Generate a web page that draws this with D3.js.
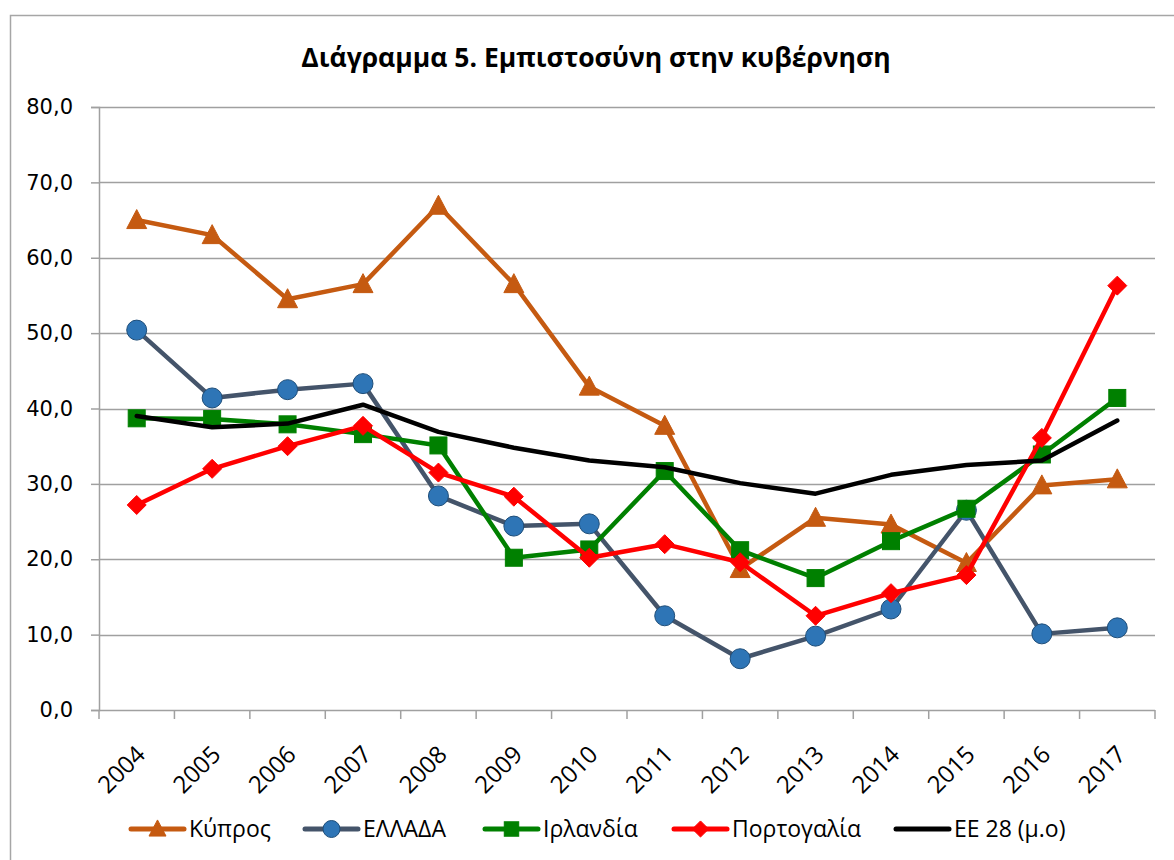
<!DOCTYPE html>
<html>
<head>
<meta charset="utf-8">
<script src="https://cdn.jsdelivr.net/npm/d3@7"></script>
<style>
  html, body { margin: 0; padding: 0; background: #fff; }
  svg { display: block; }
</style>
</head>
<body>
<svg id="chart" width="1174" height="860"></svg>
<script>
const years = ["2004","2005","2006","2007","2008","2009","2010","2011","2012","2013","2014","2015","2016","2017"];
const yTicks = [0,10,20,30,40,50,60,70,80];
const titleText = "Διάγραμμα 5. Εμπιστοσύνη στην κυβέρνηση";

const cyprus   = [65.0,63.0,54.5,56.5,66.9,56.5,42.9,37.7,18.7,25.5,24.6,19.5,29.8,30.6];
const greece   = [50.4,41.4,42.5,43.3,28.4,24.4,24.7,12.5,6.8,9.8,13.4,26.5,10.1,10.9];
const ireland  = [38.7,38.6,37.9,36.6,35.1,20.2,21.3,31.7,21.2,17.5,22.4,26.7,33.9,41.4];
const portugal = [27.2,32.0,35.0,37.7,31.5,28.3,20.2,22.0,19.6,12.5,15.5,17.9,36.1,56.3];
const eu28     = [39.0,37.5,38.0,40.5,36.9,34.8,33.1,32.2,30.1,28.7,31.2,32.5,33.1,38.4];

const seriesNames = ["Κύπρος","ΕΛΛΑΔΑ","Ιρλανδία","Πορτογαλία","ΕΕ 28 (μ.ο)"];

const series = [
  {name: seriesNames[0], values: cyprus,   line: "#C55A11", marker: "triangle", fill: "#C55A11", stroke: "#C55A11"},
  {name: seriesNames[1], values: greece,   line: "#44546A", marker: "circle",   fill: "#2E75B6", stroke: "#1F4E79"},
  {name: seriesNames[2], values: ireland,  line: "#008000", marker: "square",   fill: "#008000", stroke: "#008000"},
  {name: seriesNames[3], values: portugal, line: "#FF0000", marker: "diamond",  fill: "#FF0000", stroke: "#FF0000"},
  {name: seriesNames[4], values: eu28,     line: "#000000", marker: "none"}
];

const svg = d3.select("#chart");
const plot = {left: 99, right: 1155, top: 107, bottom: 710};

// chart border
svg.append("rect").attr("x", 10.5).attr("y", 15.5).attr("width", 1200).attr("height", 900)
  .attr("fill", "#fff").attr("stroke", "#a6a6a6").attr("stroke-width", 1.5);

const x = d3.scaleBand().domain(years).range([plot.left, plot.right]).padding(0);
const y = d3.scaleLinear().domain([0, 80]).range([plot.bottom, plot.top]);
const cx = d => x(d) + x.bandwidth() / 2;

// title
svg.append("text").attr("x", 596).attr("y", 67).attr("text-anchor", "middle")
  .attr("font-family", "Open Sans").attr("font-weight", "bold").attr("font-size", 26.5)
  .attr("fill", "#000").text(titleText);

// gridlines
svg.append("g").selectAll("line").data(yTicks.filter(t => t > 0)).join("line")
  .attr("x1", plot.left).attr("x2", plot.right)
  .attr("y1", d => Math.round(y(d)) + 0.5).attr("y2", d => Math.round(y(d)) + 0.5)
  .attr("stroke", "#a0a0a0").attr("stroke-width", 1.5);

// y axis
const yAxis = d3.axisLeft(y).tickValues(yTicks).tickSize(8).tickPadding(18)
  .tickFormat(d => d3.format(".1f")(d).replace(".", ","));
const gy = svg.append("g").attr("transform", `translate(${plot.left},0)`).call(yAxis);
gy.select(".domain").attr("stroke", "#a0a0a0").attr("stroke-width", 1.5);
gy.selectAll(".tick line").attr("stroke", "#a0a0a0").attr("stroke-width", 1.5);
gy.selectAll(".tick text").attr("font-family", "DejaVu Sans").attr("font-size", 21).attr("fill", "#000");

// x axis
const gx = svg.append("g").attr("transform", `translate(0,${plot.bottom})`);
gx.append("line").attr("x1", plot.left).attr("x2", plot.right).attr("y1", 0.5).attr("y2", 0.5)
  .attr("stroke", "#a0a0a0").attr("stroke-width", 1.5);
const bounds = years.map(yr => x(yr)).concat([plot.right]);
gx.selectAll("line.tk").data(bounds).join("line").attr("class", "tk")
  .attr("x1", d => d).attr("x2", d => d).attr("y1", 0).attr("y2", 9)
  .attr("stroke", "#a0a0a0").attr("stroke-width", 1.5);
gx.selectAll("text").data(years).join("text")
  .attr("transform", d => `translate(${cx(d) + 10},${46}) rotate(-45)`)
  .attr("text-anchor", "end")
  .attr("font-family", "Open Sans").attr("font-size", 24).attr("fill", "#000")
  .text(d => d);

// marker helpers
function drawMarker(g, type, px, py, s, fill, stroke) {
  if (type === "triangle") {
    const h = s * 0.95, w = s;
    g.append("path").attr("d", `M${px},${py - h/2 - 1}L${px + w/2},${py + h/2 - 1}L${px - w/2},${py + h/2 - 1}Z`)
      .attr("fill", fill).attr("stroke", stroke).attr("stroke-width", 1);
  } else if (type === "circle") {
    g.append("circle").attr("cx", px).attr("cy", py).attr("r", s/2)
      .attr("fill", fill).attr("stroke", stroke).attr("stroke-width", 1);
  } else if (type === "square") {
    g.append("rect").attr("x", px - s/2).attr("y", py - s/2).attr("width", s).attr("height", s)
      .attr("fill", fill).attr("stroke", stroke).attr("stroke-width", 1);
  } else if (type === "diamond") {
    const r = s/2;
    g.append("path").attr("d", `M${px},${py - r}L${px + r},${py}L${px},${py + r}L${px - r},${py}Z`)
      .attr("fill", fill).attr("stroke", stroke).attr("stroke-width", 1);
  }
}
const markerSize = {triangle: 20, circle: 20, square: 17, diamond: 19};

const line = d3.line().x((d, i) => cx(years[i])).y(d => y(d));

series.forEach(s => {
  const g = svg.append("g");
  g.append("path").attr("d", line(s.values)).attr("fill", "none")
    .attr("stroke", s.line).attr("stroke-width", 4.5).attr("stroke-linejoin", "round").attr("stroke-linecap", "round");
  if (s.marker !== "none") {
    s.values.forEach((v, i) => drawMarker(g, s.marker, cx(years[i]), y(v), markerSize[s.marker], s.fill, s.stroke));
  }
});

// legend
const legendX = [131, 305, 485, 674, 896];
const legendY = 829;
const lg = svg.append("g");
series.forEach((s, i) => {
  const x0 = legendX[i];
  lg.append("line").attr("x1", x0).attr("x2", x0 + 53).attr("y1", legendY).attr("y2", legendY)
    .attr("stroke", s.line).attr("stroke-width", 5).attr("stroke-linecap", "round");
  if (s.marker !== "none") drawMarker(lg, s.marker, x0 + 26.5, legendY, markerSize[s.marker] * 0.85, s.fill, s.stroke);
  lg.append("text").attr("x", x0 + 58).attr("y", legendY).attr("dy", "0.35em")
    .attr("font-family", "Open Sans").attr("font-size", 23).attr("fill", "#000").text(s.name);
});
</script>
</body>
</html>
